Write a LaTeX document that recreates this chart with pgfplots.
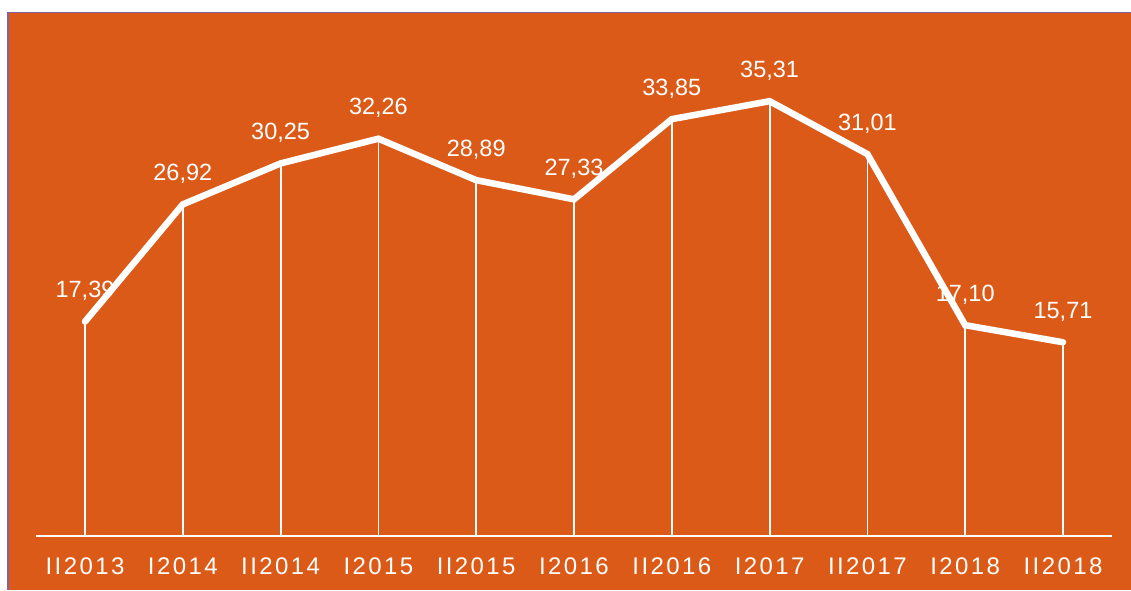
\documentclass[border=0pt]{standalone}
\usepackage{fontspec}
\setmainfont{Liberation Sans}
\newfontfamily\tickfont[LetterSpace=10]{Liberation Sans}
\usepackage{pgfplots}
\usepackage{pgfplotstable}
\pgfplotsset{compat=1.18}
\definecolor{bgorange}{RGB}{220,90,24}
\definecolor{frame}{RGB}{128,100,162}
\pgfplotstableread{
x y lab
0 17.39 17,39
1 26.92 26,92
2 30.25 30,25
3 32.26 32,26
4 28.89 28,89
5 27.33 27,33
6 33.85 33,85
7 35.31 35,31
8 31.01 31,01
9 17.10 17,10
10 15.71 15,71
}\datatab
\begin{document}
\begin{tikzpicture}[x=1pt,y=1pt]
\useasboundingbox (0,0) rectangle (1131,590);
\fill[white] (0,0) rectangle (1131,590);
\fill[frame] (6.7,0) rectangle (1131,577.8);
\fill[bgorange] (8.7,0) rectangle (1131,576.6);
\begin{axis}[
  at={(36.1pt,54.5pt)}, anchor=south west,
  scale only axis, width=1075.8pt, height=492pt,
  xmin=-0.5, xmax=10.5, ymin=0, ymax=40,
  hide y axis,
  axis x line=bottom,
  x axis line style={white, line width=2pt, -},
  xtick=data,
  xticklabels={II2013,I2014,II2014,I2015,II2015,I2016,II2016,I2017,II2017,I2018,II2018},
  major tick length=0pt,
  xticklabel style={font=\tickfont\fontsize{24}{24}\selectfont, text=white, anchor=base, yshift=-39pt, inner sep=0pt},
  clip=false,
]
\addplot[ycomb, white, line width=1.8pt] table[x=x,y=y] {\datatab};
\addplot[draw=none, mark=none,
  nodes near coords, point meta=explicit symbolic,
  nodes near coords style={font=\fontsize{23.5}{23.5}\selectfont, text=white, anchor=base, yshift=24pt, inner sep=0pt}]
  table[x=x,y=y,meta=lab] {\datatab};
\addplot[white, line width=6.5pt, line cap=round, line join=miter, mark=none] table[x=x,y=y] {\datatab};
\end{axis}
\end{tikzpicture}
\end{document}
